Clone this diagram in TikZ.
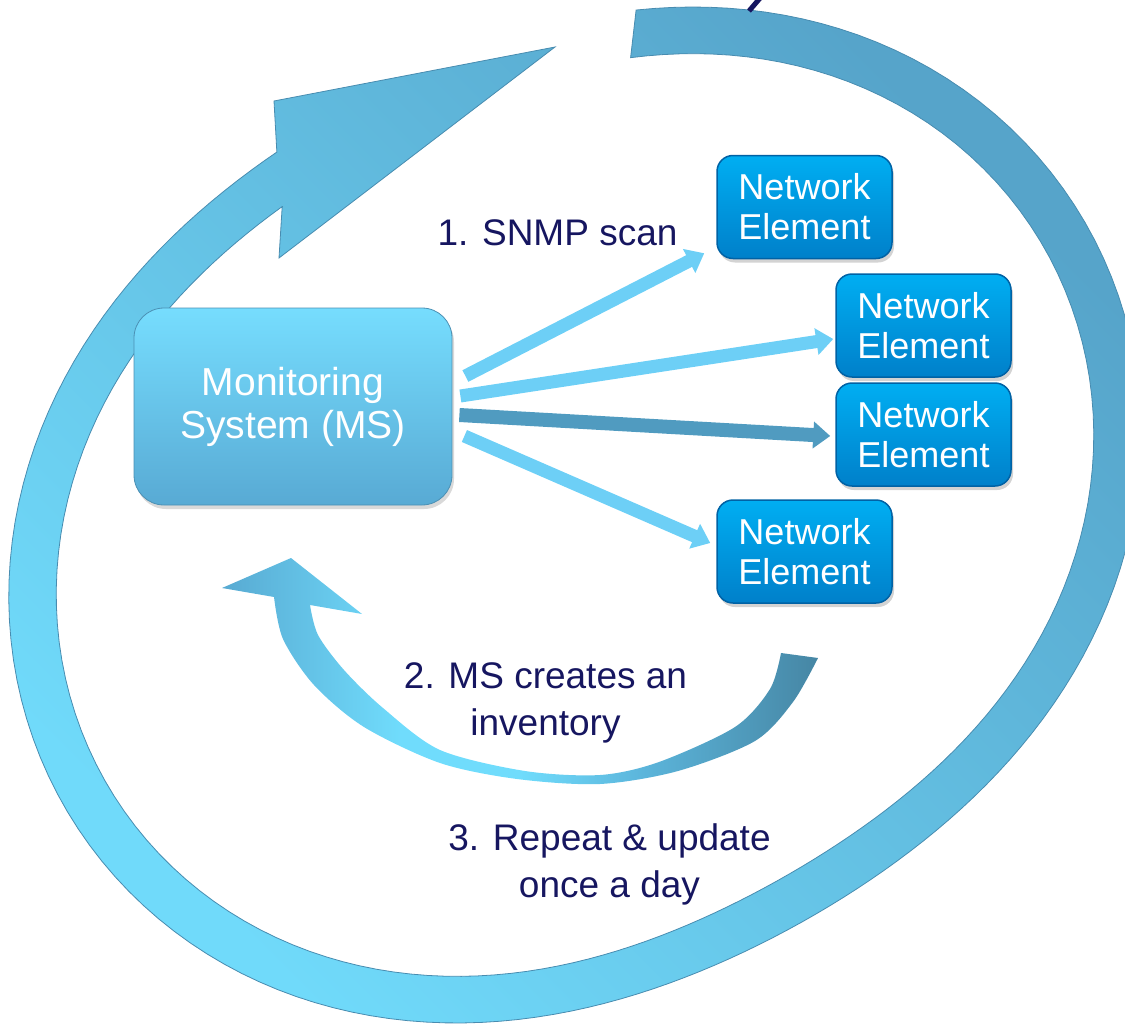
\documentclass[tikz,border=0pt]{standalone}
\usepackage{fontspec}
\setmainfont{Liberation Sans}
\usetikzlibrary{arrows.meta,shadows,calc}
\definecolor{navy}{RGB}{22,22,96}
\definecolor{ringdark}{RGB}{86,164,202}
\definecolor{ringlight}{RGB}{112,218,250}
\definecolor{ringedge}{RGB}{72,140,176}
\definecolor{saA}{RGB}{88,170,210}
\definecolor{saB}{RGB}{112,220,252}
\definecolor{saM}{RGB}{92,182,220}
\definecolor{saC}{RGB}{70,134,164}
\definecolor{fanblue}{RGB}{109,207,246}
\definecolor{fandark}{RGB}{80,155,192}
\definecolor{mstop}{RGB}{118,221,254}
\definecolor{msbot}{RGB}{88,170,212}
\definecolor{netop}{RGB}{0,174,242}
\definecolor{nebot}{RGB}{0,128,202}
\definecolor{needge}{RGB}{0,98,165}
\pgfdeclarehorizontalshading{smallarrowshade}{100bp}{color(0bp)=(saA); color(25bp)=(saA); color(31bp)=(saA!60!saB); color(40bp)=(saB); color(50bp)=(saB); color(60bp)=(saM); color(75bp)=(saC); color(100bp)=(saC)}
\begin{document}
\begin{tikzpicture}[x=1pt,y=-1pt,
  msbox/.style={rounded corners=30pt, minimum width=318pt, minimum height=197pt,
    inner sep=0pt, align=center, text=white, font=\fontsize{39}{43}\selectfont,
    top color=mstop, bottom color=msbot, draw=msbot!85!black, line width=0.8pt,
    drop shadow={opacity=0.3, shadow xshift=2pt, shadow yshift=-4pt}},
  nebox/.style={rounded corners=16pt, minimum width=175pt, minimum height=103pt,
    inner sep=0pt, align=center, text=white, font=\fontsize{36}{40}\selectfont,
    top color=netop, bottom color=nebot, draw=needge, line width=1.5pt,
    drop shadow={opacity=0.35, shadow xshift=2pt, shadow yshift=-4pt}},
  fan/.style={line width=13pt, draw=fanblue, -{Triangle[width=26pt,length=17pt]}},
  lbl/.style={text=navy, align=center, font=\fontsize{37}{47}\selectfont, inner sep=0pt}
]
\useasboundingbox (0,0) rectangle (1125,1025);

% big circular arrow (band around centre (575,515))
\begin{scope}
\clip (0,0) rectangle (1125,1025);
\shade[top color=ringdark, bottom color=ringlight, shading angle=-45, draw=ringedge, line width=0.8pt]
 plot[domain=-83.1:230.6, samples=160, variable=\t]
   ({575+(527+61*cos(2*\t+58.7))*cos(\t)},{515+(527+61*cos(2*\t+58.7))*sin(\t)})
 -- (274,101) -- (555,47) -- (279,258) -- (282.2,206.5)
 -- plot[domain=0:1, samples=160, variable=\s]
   ({575+(479+61*cos(2*(226.5-309.7*\s)+58.7))*cos(226.5-309.7*\s)},
    {515+(479+61*cos(2*(226.5-309.7*\s)+58.7))*sin(226.5-309.7*\s)})
 -- cycle;
\end{scope}

% small curved arrow
\shade[shading=smallarrowshade]
 (274,597) -- (222,588) -- (291,558) -- (362,614) -- (310,605)
 -- plot[smooth] coordinates {(310,605) (318,635) (344,670) (383,708) (440,750) (525,771) (600,775) (659,762) (735,727) (770,689) (781,653)}
 -- (818,658)
 -- plot[smooth] coordinates {(818,658) (793,702) (755,741) (678,771) (600,784) (517,779) (440,763) (364,727) (314,685) (283,639) (274,597)}
 -- cycle;

% fragment of title letter at top edge
\draw[navy, line width=5pt] (761,-3) -- (749,11);

% nodes
\node[msbox] (ms) at (293,406.5) {Monitoring\\System (MS)};
\node[nebox] (ne1) at (804.5,207) {Network\\Element};
\node[nebox] (ne2) at (923.5,325.5) {Network\\Element};
\node[nebox] (ne3) at (923.5,434.5) {Network\\Element};
\node[nebox] (ne4) at (804.5,551.5) {Network\\Element};

% fan-out arrows
\draw[fan] ([xshift=13pt,yshift=30.5pt]ms.east) -- ([xshift=-12pt,yshift=6pt]ne1.south west);
\draw[fan] ([xshift=8pt,yshift=10.5pt]ms.east) -- ([xshift=-2pt,yshift=-13.5pt]ne2.west);
\draw[fan, draw=fandark, line width=14pt] ([xshift=7pt,yshift=-8.5pt]ms.east) -- ([xshift=-5pt,yshift=-1.5pt]ne3.west);
\draw[fan] ([xshift=12pt,yshift=-29.5pt]ms.east) -- ([xshift=-6pt,yshift=8.5pt]ne4.west);

% labels
\node[lbl, anchor=base] (l1) at (557.5,245) {1. SNMP scan};
\node[lbl] (l2) at (545.5,703) {2. MS creates an\\inventory};
\node[lbl] (l3) at (609.5,864) {3. Repeat \& update\\once a day};
\end{tikzpicture}
\end{document}
